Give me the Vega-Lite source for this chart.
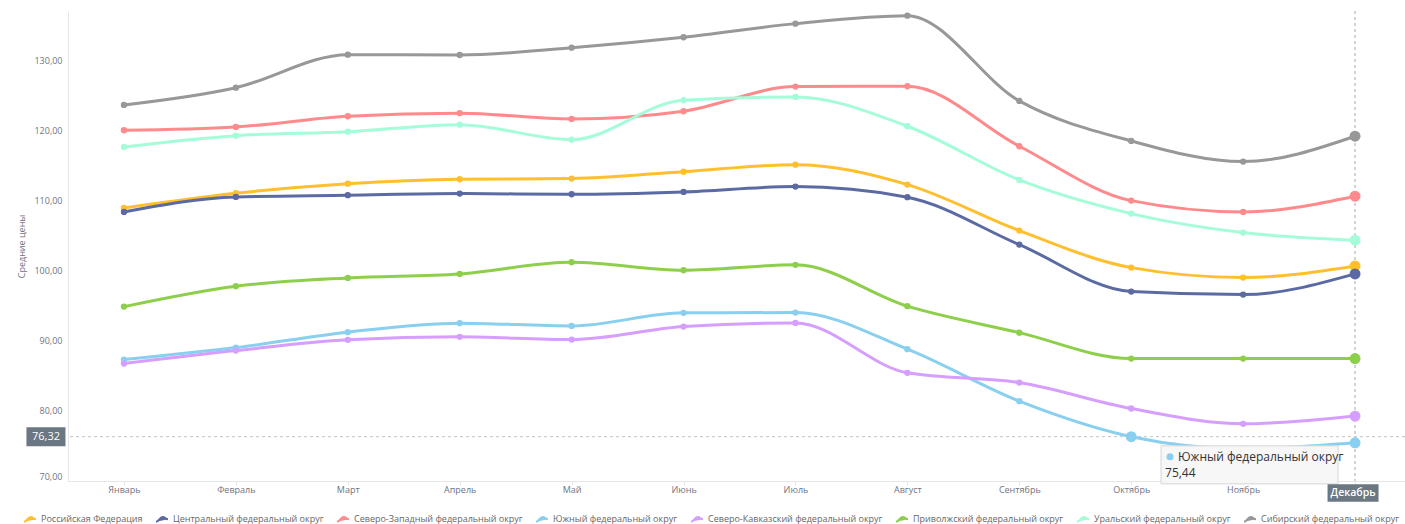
{
  "$schema": "https://vega.github.io/schema/vega-lite/v6.json",
  "width": 1343,
  "height": 470,
  "autosize": {"type": "none"},
  "padding": {"left": 68, "top": 11, "right": 0, "bottom": 43},
  "background": "white",
  "title": {"text": "Средние потребительские цены на яблоки, руб/кг, по федеральным округам", "fontSize": 19, "fontWeight": "bold", "font": "Open Sans", "color": "#000000", "anchor": "middle", "baseline": "alphabetic", "offset": 11, "dx": -40},
  "config": {"font": "Open Sans", "view": {"stroke": null}},
  "datasets": {
    "d": [
      {"m": "Январь", "r": "Российская Федерация", "v": 108.93},
      {"m": "Февраль", "r": "Российская Федерация", "v": 111.02},
      {"m": "Март", "r": "Российская Федерация", "v": 112.39},
      {"m": "Апрель", "r": "Российская Федерация", "v": 113.02},
      {"m": "Май", "r": "Российская Федерация", "v": 113.11},
      {"m": "Июнь", "r": "Российская Федерация", "v": 114.10},
      {"m": "Июль", "r": "Российская Федерация", "v": 115.10},
      {"m": "Август", "r": "Российская Федерация", "v": 112.25},
      {"m": "Сентябрь", "r": "Российская Федерация", "v": 105.70},
      {"m": "Октябрь", "r": "Российская Федерация", "v": 100.42},
      {"m": "Ноябрь", "r": "Российская Федерация", "v": 99.00},
      {"m": "Декабрь", "r": "Российская Федерация", "v": 100.66},
      {"m": "Январь", "r": "Центральный федеральный округ", "v": 108.36},
      {"m": "Февраль", "r": "Центральный федеральный округ", "v": 110.50},
      {"m": "Март", "r": "Центральный федеральный округ", "v": 110.74},
      {"m": "Апрель", "r": "Центральный федеральный округ", "v": 110.97},
      {"m": "Май", "r": "Центральный федеральный округ", "v": 110.88},
      {"m": "Июнь", "r": "Центральный федеральный округ", "v": 111.21},
      {"m": "Июль", "r": "Центральный федеральный округ", "v": 111.97},
      {"m": "Август", "r": "Центральный федеральный округ", "v": 110.46},
      {"m": "Сентябрь", "r": "Центральный федеральный округ", "v": 103.70},
      {"m": "Октябрь", "r": "Центральный федеральный округ", "v": 97.00},
      {"m": "Ноябрь", "r": "Центральный федеральный округ", "v": 96.57},
      {"m": "Декабрь", "r": "Центральный федеральный округ", "v": 99.52},
      {"m": "Январь", "r": "Северо-Западный федеральный округ", "v": 120.00},
      {"m": "Февраль", "r": "Северо-Западный федеральный округ", "v": 120.47},
      {"m": "Март", "r": "Северо-Западный федеральный округ", "v": 122.00},
      {"m": "Апрель", "r": "Северо-Западный федеральный округ", "v": 122.43},
      {"m": "Май", "r": "Северо-Западный федеральный округ", "v": 121.61},
      {"m": "Июнь", "r": "Северо-Западный федеральный округ", "v": 122.71},
      {"m": "Июль", "r": "Северо-Западный федеральный округ", "v": 126.22},
      {"m": "Август", "r": "Северо-Западный федеральный округ", "v": 126.27},
      {"m": "Сентябрь", "r": "Северо-Западный федеральный округ", "v": 117.72},
      {"m": "Октябрь", "r": "Северо-Западный федеральный округ", "v": 109.97},
      {"m": "Ноябрь", "r": "Северо-Западный федеральный округ", "v": 108.36},
      {"m": "Декабрь", "r": "Северо-Западный федеральный округ", "v": 110.60},
      {"m": "Январь", "r": "Южный федеральный округ", "v": 87.31},
      {"m": "Февраль", "r": "Южный федеральный округ", "v": 89.02},
      {"m": "Март", "r": "Южный федеральный округ", "v": 91.22},
      {"m": "Апрель", "r": "Южный федеральный округ", "v": 92.50},
      {"m": "Май", "r": "Южный федеральный округ", "v": 92.11},
      {"m": "Июнь", "r": "Южный федеральный округ", "v": 93.97},
      {"m": "Июль", "r": "Южный федеральный округ", "v": 94.01},
      {"m": "Август", "r": "Южный федеральный округ", "v": 88.79},
      {"m": "Сентябрь", "r": "Южный федеральный округ", "v": 81.38},
      {"m": "Октябрь", "r": "Южный федеральный округ", "v": 76.32},
      {"m": "Ноябрь", "r": "Южный федеральный округ", "v": 74.60},
      {"m": "Декабрь", "r": "Южный федеральный округ", "v": 75.44},
      {"m": "Январь", "r": "Северо-Кавказский федеральный округ", "v": 86.74},
      {"m": "Февраль", "r": "Северо-Кавказский федеральный округ", "v": 88.59},
      {"m": "Март", "r": "Северо-Кавказский федеральный округ", "v": 90.12},
      {"m": "Апрель", "r": "Северо-Кавказский федеральный округ", "v": 90.55},
      {"m": "Май", "r": "Северо-Кавказский федеральный округ", "v": 90.16},
      {"m": "Июнь", "r": "Северо-Кавказский федеральный округ", "v": 92.01},
      {"m": "Июль", "r": "Северо-Кавказский федеральный округ", "v": 92.54},
      {"m": "Август", "r": "Северо-Кавказский федеральный округ", "v": 85.42},
      {"m": "Сентябрь", "r": "Северо-Кавказский федеральный округ", "v": 84.03},
      {"m": "Октябрь", "r": "Северо-Кавказский федеральный округ", "v": 80.33},
      {"m": "Ноябрь", "r": "Северо-Кавказский федеральный округ", "v": 78.15},
      {"m": "Декабрь", "r": "Северо-Кавказский федеральный округ", "v": 79.25},
      {"m": "Январь", "r": "Приволжский федеральный округ", "v": 94.86},
      {"m": "Февраль", "r": "Приволжский федеральный округ", "v": 97.77},
      {"m": "Март", "r": "Приволжский федеральный округ", "v": 98.95},
      {"m": "Апрель", "r": "Приволжский федеральный округ", "v": 99.52},
      {"m": "Май", "r": "Приволжский федеральный округ", "v": 101.19},
      {"m": "Июнь", "r": "Приволжский федеральный округ", "v": 100.05},
      {"m": "Июль", "r": "Приволжский федеральный округ", "v": 100.81},
      {"m": "Август", "r": "Приволжский федеральный округ", "v": 94.92},
      {"m": "Сентябрь", "r": "Приволжский федеральный округ", "v": 91.15},
      {"m": "Октябрь", "r": "Приволжский федеральный округ", "v": 87.45},
      {"m": "Ноябрь", "r": "Приволжский федеральный округ", "v": 87.45},
      {"m": "Декабрь", "r": "Приволжский федеральный округ", "v": 87.45},
      {"m": "Январь", "r": "Уральский федеральный округ", "v": 117.62},
      {"m": "Февраль", "r": "Уральский федеральный округ", "v": 119.23},
      {"m": "Март", "r": "Уральский федеральный округ", "v": 119.80},
      {"m": "Апрель", "r": "Уральский федеральный округ", "v": 120.80},
      {"m": "Май", "r": "Уральский федеральный округ", "v": 118.66},
      {"m": "Июнь", "r": "Уральский федеральный округ", "v": 124.28},
      {"m": "Июль", "r": "Уральский федеральный округ", "v": 124.75},
      {"m": "Август", "r": "Уральский федеральный округ", "v": 120.57},
      {"m": "Сентябрь", "r": "Уральский федеральный округ", "v": 112.92},
      {"m": "Октябрь", "r": "Уральский федеральный округ", "v": 108.12},
      {"m": "Ноябрь", "r": "Уральский федеральный округ", "v": 105.41},
      {"m": "Декабрь", "r": "Уральский федеральный округ", "v": 104.33},
      {"m": "Январь", "r": "Сибирский федеральный округ", "v": 123.61},
      {"m": "Февраль", "r": "Сибирский федеральный округ", "v": 126.07},
      {"m": "Март", "r": "Сибирский федеральный округ", "v": 130.78},
      {"m": "Апрель", "r": "Сибирский федеральный округ", "v": 130.73},
      {"m": "Май", "r": "Сибирский федеральный округ", "v": 131.77},
      {"m": "Июнь", "r": "Сибирский федеральный округ", "v": 133.26},
      {"m": "Июль", "r": "Сибирский федеральный округ", "v": 135.20},
      {"m": "Август", "r": "Сибирский федеральный округ", "v": 136.34},
      {"m": "Сентябрь", "r": "Сибирский федеральный округ", "v": 124.18},
      {"m": "Октябрь", "r": "Сибирский федеральный округ", "v": 118.48},
      {"m": "Ноябрь", "r": "Сибирский федеральный округ", "v": 115.53},
      {"m": "Декабрь", "r": "Сибирский федеральный округ", "v": 119.15}
    ],
    "hline": [{"v": 76.32}],
    "vline": [{"m": "Декабрь"}],
    "tip": [{"m": "Декабрь", "v": 75.44, "name": "Южный федеральный округ", "val": "75,44"}],
    "ylab": [{"m": "Январь", "v": 76.32, "t": "76,32"}],
    "xlab": [{"m": "Декабрь", "v": 70, "t": "Декабрь"}]
  },
  "layer": [
    {
      "data": {"name": "hline"},
      "mark": {"type": "rule", "stroke": "#c4c4c4", "strokeWidth": 1, "strokeDash": [3, 3]},
      "encoding": {
        "y": {"field": "v", "type": "quantitative", "title": "Средние цены"}
      }
    },
    {
      "data": {"name": "vline"},
      "mark": {"type": "rule", "stroke": "#a8a8a8", "strokeWidth": 1, "strokeDash": [3, 3]},
      "encoding": {
        "x": {"field": "m", "type": "ordinal", "title": null}
      }
    },
    {
      "data": {"name": "d"},
      "mark": {"type": "line", "interpolate": "monotone", "strokeWidth": 3},
      "encoding": {
        "x": {
          "field": "m", "type": "ordinal", "title": null,
          "sort": ["Январь", "Февраль", "Март", "Апрель", "Май", "Июнь", "Июль", "Август", "Сентябрь", "Октябрь", "Ноябрь", "Декабрь"],
          "scale": {"type": "point", "padding": 0.5, "domain": ["Январь", "Февраль", "Март", "Апрель", "Май", "Июнь", "Июль", "Август", "Сентябрь", "Октябрь", "Ноябрь", "Декабрь"]},
          "axis": {
            "labelAngle": 0, "labelAlign": "center", "grid": false, "domainColor": "#e6e6e6", "tickColor": "#e6e6e6", "tickSize": 4,
            "labelFontSize": 9, "labelPadding": 4, "labelColor": "#6f7480",
            "labelExpr": "datum.value === 'Декабрь' ? '' : datum.label"
          }
        },
        "y": {
          "field": "v", "type": "quantitative", "title": "Средние цены",
          "scale": {"domain": [70, 137], "nice": false, "zero": false},
          "axis": {
            "values": [70, 80, 90, 100, 110, 120, 130],
            "labelExpr": "replace(format(datum.value, '.2f'), '.', ',')",
            "ticks": false, "grid": false, "domainColor": "#e6e6e6",
            "labelFontSize": 9, "labelColor": "#6f7480", "labelPadding": 6, "labelFlush": true,
            "titleFontSize": 9, "titleFontWeight": "normal", "titleColor": "#6f7480", "titlePadding": 7
          }
        },
        "color": {
          "field": "r", "type": "nominal",
          "scale": {
            "domain": ["Российская Федерация", "Центральный федеральный округ", "Северо-Западный федеральный округ", "Южный федеральный округ", "Северо-Кавказский федеральный округ", "Приволжский федеральный округ", "Уральский федеральный округ", "Сибирский федеральный округ"],
            "range": ["#FFBF2F", "#5B6AA3", "#FF8A8C", "#88CFF0", "#D59EFF", "#8DCF4A", "#A4FCD8", "#989898"]
          },
          "legend": {
            "orient": "none", "legendX": -45, "legendY": 501, "direction": "horizontal", "columns": 8, "title": null,
            "symbolType": "M-1,0.4C-0.5,0.4 -0.4,-0.4 0.1,-0.4C0.5,-0.4 0.6,0 1,0",
            "symbolStrokeWidth": 2, "symbolSize": 144, "symbolFillColor": "transparent",
            "labelFontSize": 9, "labelColor": "#666666", "labelLimit": 0, "columnPadding": 9, "labelOffset": 4,
            "encode": {"symbols": {"update": {"fill": {"value": "transparent"}, "strokeWidth": {"value": 2}, "opacity": {"value": 1}}}}
          }
        }
      }
    },
    {
      "data": {"name": "d"},
      "mark": {"type": "point", "filled": true, "size": 40, "opacity": 1},
      "encoding": {
        "x": {"field": "m", "type": "ordinal", "title": null},
        "y": {"field": "v", "type": "quantitative", "title": "Средние цены"},
        "color": {"field": "r", "type": "nominal"}
      }
    },
    {
      "data": {"name": "d"},
      "transform": [{"filter": "datum.m === 'Декабрь' || (datum.m === 'Октябрь' && datum.r === 'Южный федеральный округ')"}],
      "mark": {"type": "point", "filled": true, "size": 120, "opacity": 1},
      "encoding": {
        "x": {"field": "m", "type": "ordinal", "title": null},
        "y": {"field": "v", "type": "quantitative", "title": "Средние цены"},
        "color": {"field": "r", "type": "nominal"}
      }
    },
    {
      "data": {"name": "tip"},
      "mark": {"type": "point", "shape": "M-1,-0.2147L1,-0.2147L1,0.2147L-1,0.2147Z", "size": 31329, "filled": true, "fill": "#f7f7f7", "stroke": "#d6d6d6", "strokeWidth": 1, "opacity": 1, "xOffset": -105.5, "yOffset": 22},
      "encoding": {
        "x": {"field": "m", "type": "ordinal", "title": null},
        "y": {"field": "v", "type": "quantitative", "title": "Средние цены"}
      }
    },
    {
      "data": {"name": "tip"},
      "mark": {"type": "point", "shape": "circle", "size": 50, "filled": true, "fill": "#88CFF0", "opacity": 1, "xOffset": -185, "yOffset": 14},
      "encoding": {
        "x": {"field": "m", "type": "ordinal", "title": null},
        "y": {"field": "v", "type": "quantitative", "title": "Средние цены"}
      }
    },
    {
      "data": {"name": "tip"},
      "mark": {"type": "text", "align": "left", "baseline": "middle", "dx": -177, "dy": 14, "fontSize": 12, "color": "#333333"},
      "encoding": {
        "x": {"field": "m", "type": "ordinal", "title": null},
        "y": {"field": "v", "type": "quantitative", "title": "Средние цены"},
        "text": {"field": "name"}
      }
    },
    {
      "data": {"name": "tip"},
      "mark": {"type": "text", "align": "left", "baseline": "middle", "dx": -190, "dy": 30, "fontSize": 12, "color": "#333333"},
      "encoding": {
        "x": {"field": "m", "type": "ordinal", "title": null},
        "y": {"field": "v", "type": "quantitative", "title": "Средние цены"},
        "text": {"field": "val"}
      }
    },
    {
      "data": {"name": "ylab"},
      "mark": {"type": "point", "shape": "M-1,-0.487L1,-0.487L1,0.487L-1,0.487Z", "size": 1521, "filled": true, "fill": "#6b7782", "opacity": 1, "xOffset": -78},
      "encoding": {
        "x": {"field": "m", "type": "ordinal", "title": null},
        "y": {"field": "v", "type": "quantitative", "title": "Средние цены"}
      }
    },
    {
      "data": {"name": "ylab"},
      "mark": {"type": "text", "align": "center", "baseline": "middle", "dx": -78, "fontSize": 11, "color": "#ffffff"},
      "encoding": {
        "x": {"field": "m", "type": "ordinal", "title": null},
        "y": {"field": "v", "type": "quantitative", "title": "Средние цены"},
        "text": {"field": "t"}
      }
    },
    {
      "data": {"name": "xlab"},
      "mark": {"type": "point", "shape": "M-1,-0.341L1,-0.341L1,0.341L-1,0.341Z", "size": 2601, "filled": true, "fill": "#6b7782", "opacity": 1, "xOffset": -2, "yOffset": 12},
      "encoding": {
        "x": {"field": "m", "type": "ordinal", "title": null},
        "y": {"field": "v", "type": "quantitative", "title": "Средние цены"}
      }
    },
    {
      "data": {"name": "xlab"},
      "mark": {"type": "text", "align": "center", "baseline": "middle", "dx": -2, "dy": 12, "fontSize": 10.5, "fontWeight": 600, "color": "#ffffff"},
      "encoding": {
        "x": {"field": "m", "type": "ordinal", "title": null},
        "y": {"field": "v", "type": "quantitative", "title": "Средние цены"},
        "text": {"field": "t"}
      }
    }
  ]
}
